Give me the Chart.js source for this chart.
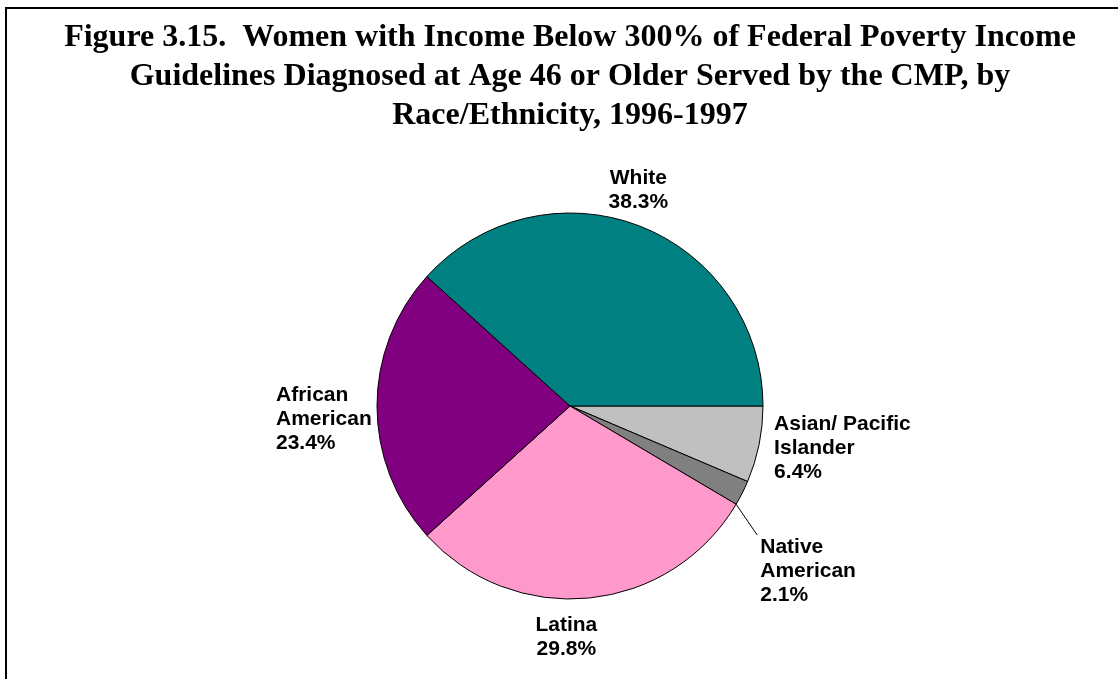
<!DOCTYPE html>
<html>
<head>
<meta charset="utf-8">
<title>Figure 3.15</title>
<script src="https://cdn.jsdelivr.net/npm/chart.js@4"></script>
<style>
  html, body { margin: 0; padding: 0; background: #ffffff; }
  #wrap { position: relative; width: 1118px; height: 679px; }
</style>
</head>
<body>
<div id="wrap"><canvas id="pie" width="1118" height="679"></canvas></div>
<script>
// Figure title, one entry per line
const titleLines = [
  'Figure 3.15.  Women with Income Below 300% of Federal Poverty Income',
  'Guidelines Diagnosed at Age 46 or Older Served by the CMP, by',
  'Race/Ethnicity, 1996-1997'
];

// Slices, listed clockwise starting from 3 o'clock
const categories = ['Asian/ Pacific Islander', 'Native American', 'Latina', 'African American', 'White'];
const labelLines = [['Asian/ Pacific', 'Islander'], ['Native', 'American'], ['Latina'], ['African', 'American'], ['White']];
const shares = [6.4, 2.1, 29.8, 23.4, 38.3];
const sliceColors = ['#C0C0C0', '#808080', '#FF99CC', '#800080', '#008080'];

// Where each label block sits relative to its slice's outer mid-point
const labelPlacement = [
  { align: 'left',   dx: 15,   dy: -20 },
  { align: 'left',   dx: 18,   dy: 54, leader: true },
  { align: 'center', dx: -23,  dy: 27 },
  { align: 'left',   dx: -101, dy: -11 },
  { align: 'center', dx: -1,   dy: -48 }
];

const LABEL_FONT = 'bold 21px "Liberation Sans", Arial, sans-serif';
const LABEL_LINE = 24;

// Thin frame along the top and left edges
const framePlugin = {
  id: 'frame',
  beforeDraw(chart) {
    const ctx = chart.ctx;
    ctx.save();
    ctx.fillStyle = '#000000';
    ctx.fillRect(5, 7, chart.width - 5, 2);
    ctx.fillRect(5, 7, 2, chart.height - 7);
    ctx.restore();
  }
};

// Category + percentage labels outside the pie, with a leader line where needed
const sliceLabelPlugin = {
  id: 'sliceLabels',
  afterDatasetsDraw(chart) {
    const ctx = chart.ctx;
    const meta = chart.getDatasetMeta(0);
    ctx.save();
    ctx.font = LABEL_FONT;
    ctx.fillStyle = '#000000';
    ctx.textBaseline = 'middle';
    meta.data.forEach((arc, i) => {
      const { x, y, startAngle, endAngle, outerRadius } =
        arc.getProps(['x', 'y', 'startAngle', 'endAngle', 'outerRadius'], true);
      const mid = (startAngle + endAngle) / 2;
      const px = x + outerRadius * Math.cos(mid);
      const py = y + outerRadius * Math.sin(mid);
      const place = labelPlacement[i];
      const tx = px + place.dx;
      const ty = py + place.dy;
      const lines = labelLines[i].concat([shares[i].toFixed(1) + '%']);
      ctx.textAlign = place.align;
      lines.forEach((line, k) => ctx.fillText(line, tx, ty + k * LABEL_LINE));

      if (place.leader) {
        const ex = tx - 3;
        const ey = ty - 12;
        let a = Math.atan2(ey - y, ex - x);
        a = Math.min(Math.max(a, startAngle), endAngle);
        ctx.beginPath();
        ctx.strokeStyle = '#000000';
        ctx.lineWidth = 1;
        ctx.moveTo(x + outerRadius * Math.cos(a), y + outerRadius * Math.sin(a));
        ctx.lineTo(ex, ey);
        ctx.stroke();
      }
    });
    ctx.restore();
  }
};

new Chart(document.getElementById('pie'), {
  type: 'pie',
  data: {
    labels: categories,
    datasets: [{
      data: shares,
      backgroundColor: sliceColors,
      borderColor: '#000000',
      borderWidth: 1,
      radius: 193
    }]
  },
  options: {
    responsive: false,
    animation: false,
    events: [],
    rotation: 90,
    layout: { padding: { left: 22, right: 0, top: 0, bottom: 2 } },
    plugins: {
      legend: { display: false },
      tooltip: { enabled: false },
      title: {
        display: true,
        text: titleLines,
        color: '#000000',
        font: { family: '"Liberation Serif", "Times New Roman", serif', size: 32, weight: 'bold', lineHeight: 39 / 32 },
        padding: { top: 18, bottom: 0 }
      }
    }
  },
  plugins: [framePlugin, sliceLabelPlugin]
});
</script>
</body>
</html>
